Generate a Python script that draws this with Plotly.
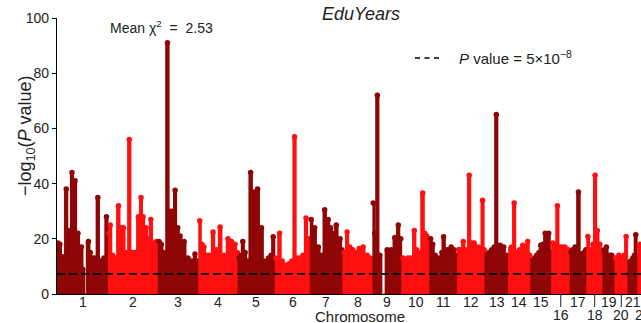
import plotly.graph_objects as go

# Chromosome lengths (Mb, hg19)
CHROM_LENGTHS_MB = [249.25, 243.2, 198.0, 191.15, 180.9, 171.1, 159.1, 146.4, 141.2,
                    135.5, 135.0, 133.9, 115.2, 107.3, 102.5, 90.35, 81.2, 78.1,
                    59.1, 63.0, 48.1, 51.3]
CHROM_NAMES = [str(i) for i in range(1, 23)]

# Lead loci per chromosome: (position within chromosome in Mb, -log10 P)
CHR1 = [(4, 18.5), (14, 18), (27, 13.5), (45, 38), (54, 15), (61, 23), (73, 44), (88, 41),
        (102, 22), (119, 17), (125, 9), (153, 19), (162, 15), (171, 13), (183, 13),
        (199, 35), (214, 12), (229, 13), (241, 28)]
CHR2 = [(4, 22), (10, 25), (22, 14), (33, 13), (50, 32), (62, 24), (74, 24), (89, 15),
        (103, 56), (116, 15), (131, 15), (147, 28), (160, 35), (170, 28), (185, 24),
        (198, 20), (208, 27), (222, 18.5), (236, 19)]
CHR3 = [(5, 19), (16, 18), (29, 15), (46, 91), (58, 30), (68, 30), (83, 37.6), (96, 24),
        (107, 21), (127, 19), (146, 13), (163, 12), (180, 14.5), (194, 12)]
CHR4 = [(5, 26.5), (16, 18), (26, 17), (40, 14), (53, 14), (70, 22.5), (87, 16),
        (104, 24.3), (124, 14), (143, 20), (160, 19), (177, 18), (188, 15)]
CHR5 = [(6, 13), (15, 14), (24, 19), (35, 15), (47, 12), (62, 44), (79, 37), (96, 38),
        (115, 24), (133, 12), (150, 13), (162, 14), (172, 20.7)]
CHR6 = [(5, 13), (22, 22), (35, 12), (48, 10.5), (68, 11), (82, 12), (95, 57), (108, 13),
        (122, 13), (136, 14), (151, 27.5), (166, 20)]
CHR7 = [(5, 27), (22, 24), (40, 17), (56, 14), (71, 30.5), (88, 27), (100, 24), (112, 22),
        (127, 25), (146, 20), (155, 16)]
CHR8 = [(7, 15), (21, 22.5), (34, 17), (48, 16), (62, 15), (80, 16.5), (99, 17), (119, 14),
        (134, 13), (143, 12)]
CHR9 = [(2, 33), (9, 22), (22, 72), (34, 14), (70, 16), (80, 15), (90, 16), (107, 20.5),
        (124, 25), (136, 20)]
CHR10 = [(6, 13), (18, 12), (30, 13), (44, 13), (61, 23), (72, 16), (82, 15), (102, 36.6),
         (112, 22), (122, 21), (132, 18)]
CHR11 = [(5, 20), (15, 18), (27, 14), (46, 13), (60, 15), (68, 20.7), (85, 16), (105, 17),
         (118, 16), (131, 14)]
CHR12 = [(5, 16), (15, 16), (29, 19), (42, 16), (58, 43), (70, 18.5), (82, 18.5), (102, 17),
         (115, 16), (123, 34), (131, 16)]
CHR13 = [(20, 15), (34, 16), (46, 17), (56, 65), (66, 16), (75, 17.7), (92, 17), (107, 14)]
CHR14 = [(15, 17), (28, 33), (40, 15), (55, 16), (70, 17.7), (82, 17), (94, 19), (104, 14)]
CHR15 = [(20, 13), (30, 14), (42, 15), (50, 17.7), (62, 18), (72, 22), (89, 22), (100, 15)]
CHR16 = [(5, 18.5), (16, 18), (29, 32), (40, 17), (52, 17), (66, 17), (83, 16)]
CHR17 = [(5, 15), (14, 16), (25, 17), (41, 37), (57, 14.5), (68, 15), (77, 16)]
CHR18 = [(6, 20.8), (20, 16), (31, 18), (41, 43), (52, 23), (64, 18), (74, 15)]
CHR19 = [(6, 16), (18, 17), (32, 14), (44, 14), (54, 13)]
CHR20 = [(5, 13), (20, 14), (34, 13), (46, 14), (55, 20.8)]
CHR21 = [(15, 12), (25, 13), (33, 14), (39, 21.5), (46, 13)]
CHR22 = [(10, 18), (22, 15), (36, 14), (47, 12)]

LOCI = [CHR1, CHR2, CHR3, CHR4, CHR5, CHR6, CHR7, CHR8, CHR9, CHR10, CHR11,
        CHR12, CHR13, CHR14, CHR15, CHR16, CHR17, CHR18, CHR19, CHR20, CHR21, CHR22]

GWS_LOG10 = 7.30          # -log10(5e-8)
MEAN_CHI2 = 2.53
TRAIT = "EduYears"
X_MAX_MB = 2846

DARK = "#8e0606"
BRIGHT = "#ff1010"
FONT = "Liberation Sans, Arial, sans-serif"

# plot area geometry (px) for paper-coordinate placement of decorations
W, H = 641, 323
L, R, T, B = 57, 0, 18, 29
PW, PH = W - L - R, H - T - B


def px(x):
    return (x - L) / PW


def py(y):
    return (H - B - y) / PH


# cumulative offsets
offsets = []
acc = 0.0
for ln in CHROM_LENGTHS_MB:
    offsets.append(acc)
    acc += ln
centers = [o + ln / 2 for o, ln in zip(offsets, CHROM_LENGTHS_MB)]

HALF = 11.0     # max half-width (Mb) of the floor step around a locus
COL_HALF = 10.0  # half-width (Mb) of each locus column

fig = go.Figure()
for i, loci in enumerate(LOCI):
    col = DARK if i % 2 == 0 else BRIGHT
    off = offsets[i]
    ln = CHROM_LENGTHS_MB[i]
    pos = [p for p, _ in loci]
    vals = [v for _, v in loci]
    # step outline of the SNP cloud for this chromosome
    xs, ys = [off], [0]
    for j, (p, v) in enumerate(loci):
        left = 0 if j == 0 else max(p - HALF, (pos[j - 1] + p) / 2)
        right = ln if j == len(pos) - 1 else min(p + HALF, (p + pos[j + 1]) / 2)
        if j > 0 and left > xs[-1] - off + 1e-9:
            xs += [xs[-1], off + left]
            ys += [0, 0]
        xs += [off + left, off + right]
        ys += [v, v]
    xs.append(xs[-1])
    ys.append(0)
    fig.add_trace(go.Scatter(x=xs, y=ys, mode="lines", fill="toself", fillcolor=col,
                             line=dict(color=col, width=0.6), showlegend=False,
                             hoverinfo="skip"))
    # a column of associated SNPs under each lead SNP
    lefts = [max(0, p - COL_HALF) for p in pos]
    rights = [min(ln, p + COL_HALF) for p in pos]
    fig.add_trace(go.Bar(x=[off + (a + b) / 2 for a, b in zip(lefts, rights)], y=vals,
                         width=[b - a for a, b in zip(lefts, rights)],
                         marker=dict(color=col, line=dict(width=0)),
                         showlegend=False, hoverinfo="skip"))
    # rounded tops of the lead SNPs
    fig.add_trace(go.Scatter(x=[off + p for p in pos], y=vals, mode="markers",
                             marker=dict(size=5.5, color=col, line=dict(width=0)),
                             showlegend=False))

shapes = [
    dict(type="line", xref="paper", yref="y", x0=0, x1=1, y0=GWS_LOG10, y1=GWS_LOG10,
         line=dict(color="black", width=1.6, dash="8px,4px")),
    # legend sample line
    dict(type="line", xref="paper", yref="paper", x0=px(415), x1=px(443), y0=py(58), y1=py(58),
         line=dict(color="black", width=1.6, dash="5px,4.5px")),
]

annotations = []
for i, name in enumerate(CHROM_NAMES):
    lower = i + 1 in (16, 18, 20, 22)
    xp = centers[i] / X_MAX_MB
    annotations.append(dict(x=xp, xref="paper", y=py(315 if lower else 301.5), yref="paper",
                            text=name, showarrow=False, xanchor="center", yanchor="middle",
                            borderpad=0, font=dict(size=14, color="#222")))
    if lower:
        shapes.append(dict(type="line", xref="paper", yref="paper", x0=xp, x1=xp,
                           y0=0, y1=py(307), line=dict(color="#222", width=1)))

annotations += [
    dict(x=px(108), y=py(27), xref="paper", yref="paper", xanchor="left", yanchor="middle",
         text="Mean χ<sup>2</sup>  =  %.2f" % MEAN_CHI2, showarrow=False,
         font=dict(size=14, color="#222")),
    dict(x=px(320), y=py(14), xref="paper", yref="paper", xanchor="left", yanchor="middle",
         text="<i>%s</i>" % TRAIT, showarrow=False, font=dict(size=18, color="#222")),
    dict(x=px(457), y=py(58), xref="paper", yref="paper", xanchor="left", yanchor="middle",
         text="<i>P</i> value = 5×10<sup>−8</sup>", showarrow=False,
         font=dict(size=15, color="#222")),
    dict(x=px(26), y=py(136), xref="paper", yref="paper", xanchor="center", yanchor="middle",
         text="−log<sub>10</sub>(<i>P</i> value)", textangle=-90, showarrow=False,
         font=dict(size=18, color="#222")),
    dict(x=px(360), y=py(316), xref="paper", yref="paper", xanchor="center", yanchor="middle",
         text="Chromosome", showarrow=False, borderpad=0, font=dict(size=15, color="#222")),
]

fig.update_layout(
    width=W, height=H,
    margin=dict(l=L, r=R, t=T, b=B),
    paper_bgcolor="white", plot_bgcolor="white",
    font=dict(family=FONT, color="#222"),
    barmode="overlay",
    shapes=shapes,
    annotations=annotations,
    xaxis=dict(range=[0, X_MAX_MB], showgrid=False, zeroline=False, showline=True,
               linecolor="black", linewidth=1.3, showticklabels=False, ticks=""),
    yaxis=dict(range=[0, 100], tickvals=[0, 20, 40, 60, 80, 100], showgrid=False,
               zeroline=False, showline=True, linecolor="black", linewidth=1.3,
               ticks="outside", ticklen=4, tickcolor="black", tickfont=dict(size=14, color="#222")),
)

fig.write_html("out.html")
